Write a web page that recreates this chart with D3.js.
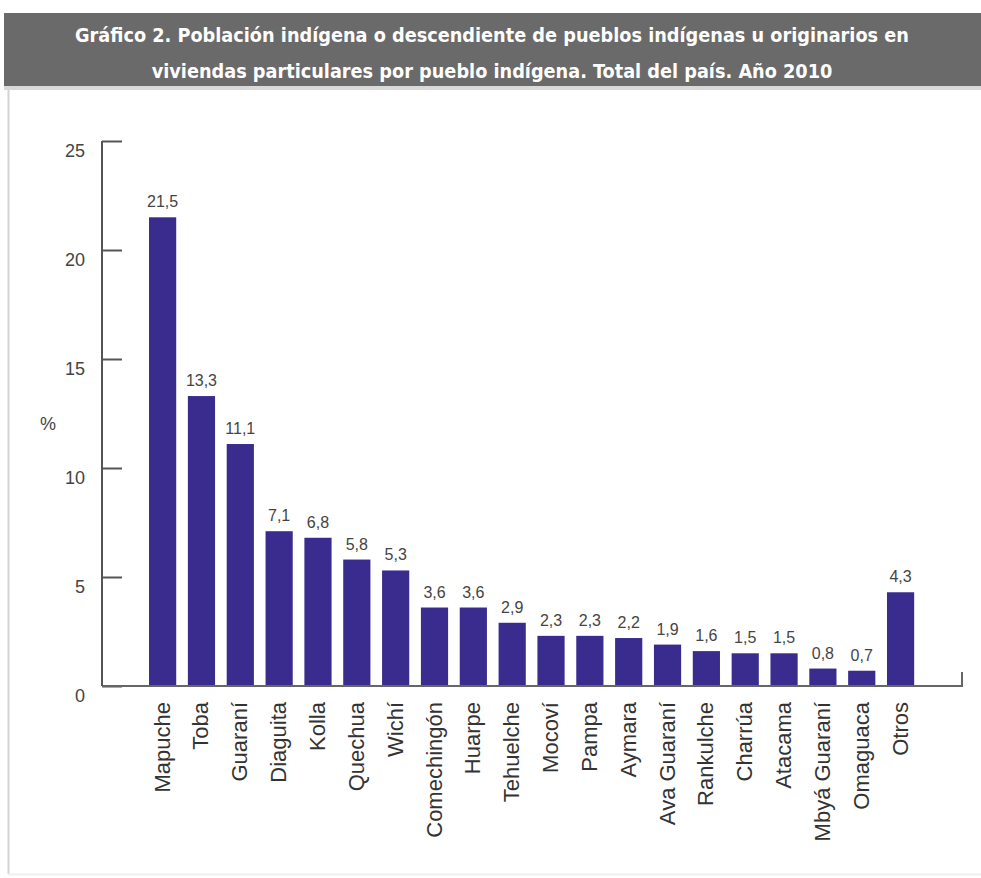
<!DOCTYPE html>
<html>
<head>
<meta charset="utf-8">
<script src="https://cdn.jsdelivr.net/npm/d3@7/dist/d3.min.js"></script>
<style>
  html, body { margin: 0; padding: 0; background: #fff; }
  svg { display: block; }
</style>
</head>
<body>
<svg id="chart" width="981" height="878"></svg>
<script>
const titleLines = [
  "Gráfico 2. Población indígena o descendiente de pueblos indígenas u originarios en",
  "viviendas particulares por pueblo indígena. Total del país. Año 2010"
];
const categories = ["Mapuche","Toba","Guaraní","Diaguita","Kolla","Quechua","Wichí","Comechingón","Huarpe","Tehuelche","Mocoví","Pampa","Aymara","Ava Guaraní","Rankulche","Charrúa","Atacama","Mbyá Guaraní","Omaguaca","Otros"];
const values = [21.5,13.3,11.1,7.1,6.8,5.8,5.3,3.6,3.6,2.9,2.3,2.3,2.2,1.9,1.6,1.5,1.5,0.8,0.7,4.3];
const yTicks = [0,5,10,15,20,25];
const yLabel = "%";

const svg = d3.select("#chart");
const W = 981, H = 878;

// frame
svg.append("rect").attr("x",0).attr("y",0).attr("width",W).attr("height",H).attr("fill","#fff");
svg.append("line").attr("x1",8.5).attr("x2",8.5).attr("y1",90).attr("y2",874).attr("stroke","#d4d4d4").attr("stroke-width",2);
svg.append("line").attr("x1",8).attr("x2",W).attr("y1",874.5).attr("y2",874.5).attr("stroke","#f0f0f0").attr("stroke-width",2);

// title bar
svg.append("rect").attr("x",4).attr("y",13).attr("width",W-4).attr("height",73).attr("fill","#6a6a6a");
svg.append("rect").attr("x",4).attr("y",86).attr("width",W-4).attr("height",4).attr("fill","#d9d9d9");
const titleFont = "'Liberation Sans Narrow','DejaVu Sans Condensed','Liberation Sans',Arial,sans-serif";
titleLines.forEach((t,i) => {
  svg.append("text")
    .attr("x", 492).attr("y", 42 + i*36)
    .attr("text-anchor","middle")
    .attr("font-family", titleFont)
    .attr("font-weight","bold")
    .attr("font-size", 19.7)
    .attr("fill","#fff")
    .text(t);
});

const y = d3.scaleLinear().domain([0,25]).range([686,141]);
const x = d3.scaleBand().domain(categories).range([143.2, 920]).paddingInner(0.3).paddingOuter(0.15);

const font = "'Liberation Sans',Arial,Helvetica,sans-serif";

// y axis
const yAxis = d3.axisRight(y).tickValues(yTicks).tickSize(20).tickFormat("");
const gy = svg.append("g").attr("transform","translate(102,0)").call(yAxis);
gy.select(".domain").attr("stroke","#555").attr("stroke-width",2).attr("d","M0,141V686");
gy.selectAll(".tick line").attr("stroke","#555").attr("stroke-width",2);

svg.append("g").selectAll("text").data(yTicks).join("text")
  .attr("x", 85).attr("y", d => y(d) + 16)
  .attr("text-anchor","end")
  .attr("font-family", font).attr("font-size", 18).attr("fill","#444")
  .text(d => d);

svg.append("text").attr("x",48).attr("y",430).attr("text-anchor","middle")
  .attr("font-family", font).attr("font-size", 18).attr("fill","#444").text(yLabel);

// bars
svg.append("g").selectAll("rect").data(values).join("rect")
  .attr("x", (d,i) => x(categories[i]))
  .attr("y", d => y(d))
  .attr("width", x.bandwidth())
  .attr("height", d => y(0) - y(d))
  .attr("fill","#3a2b8e");

// x axis
svg.append("path").attr("d","M102,686H962V672").attr("fill","none").attr("stroke","#666").attr("stroke-width",2);

// value labels
svg.append("g").selectAll("text").data(values).join("text")
  .attr("x", (d,i) => x(categories[i]) + x.bandwidth()/2)
  .attr("y", d => y(d) - 10)
  .attr("text-anchor","middle")
  .attr("font-family", font).attr("font-size", 16).attr("fill","#444")
  .text(d => d3.format(".1f")(d).replace(".", ","));

// category labels
svg.append("g").selectAll("text").data(categories).join("text")
  .attr("transform", d => `translate(${x(d) + x.bandwidth()/2 + 7},702) rotate(-90)`)
  .attr("text-anchor","end")
  .attr("font-family", font).attr("font-size", 22).attr("fill","#333")
  .text(d => d);
</script>
</body>
</html>
